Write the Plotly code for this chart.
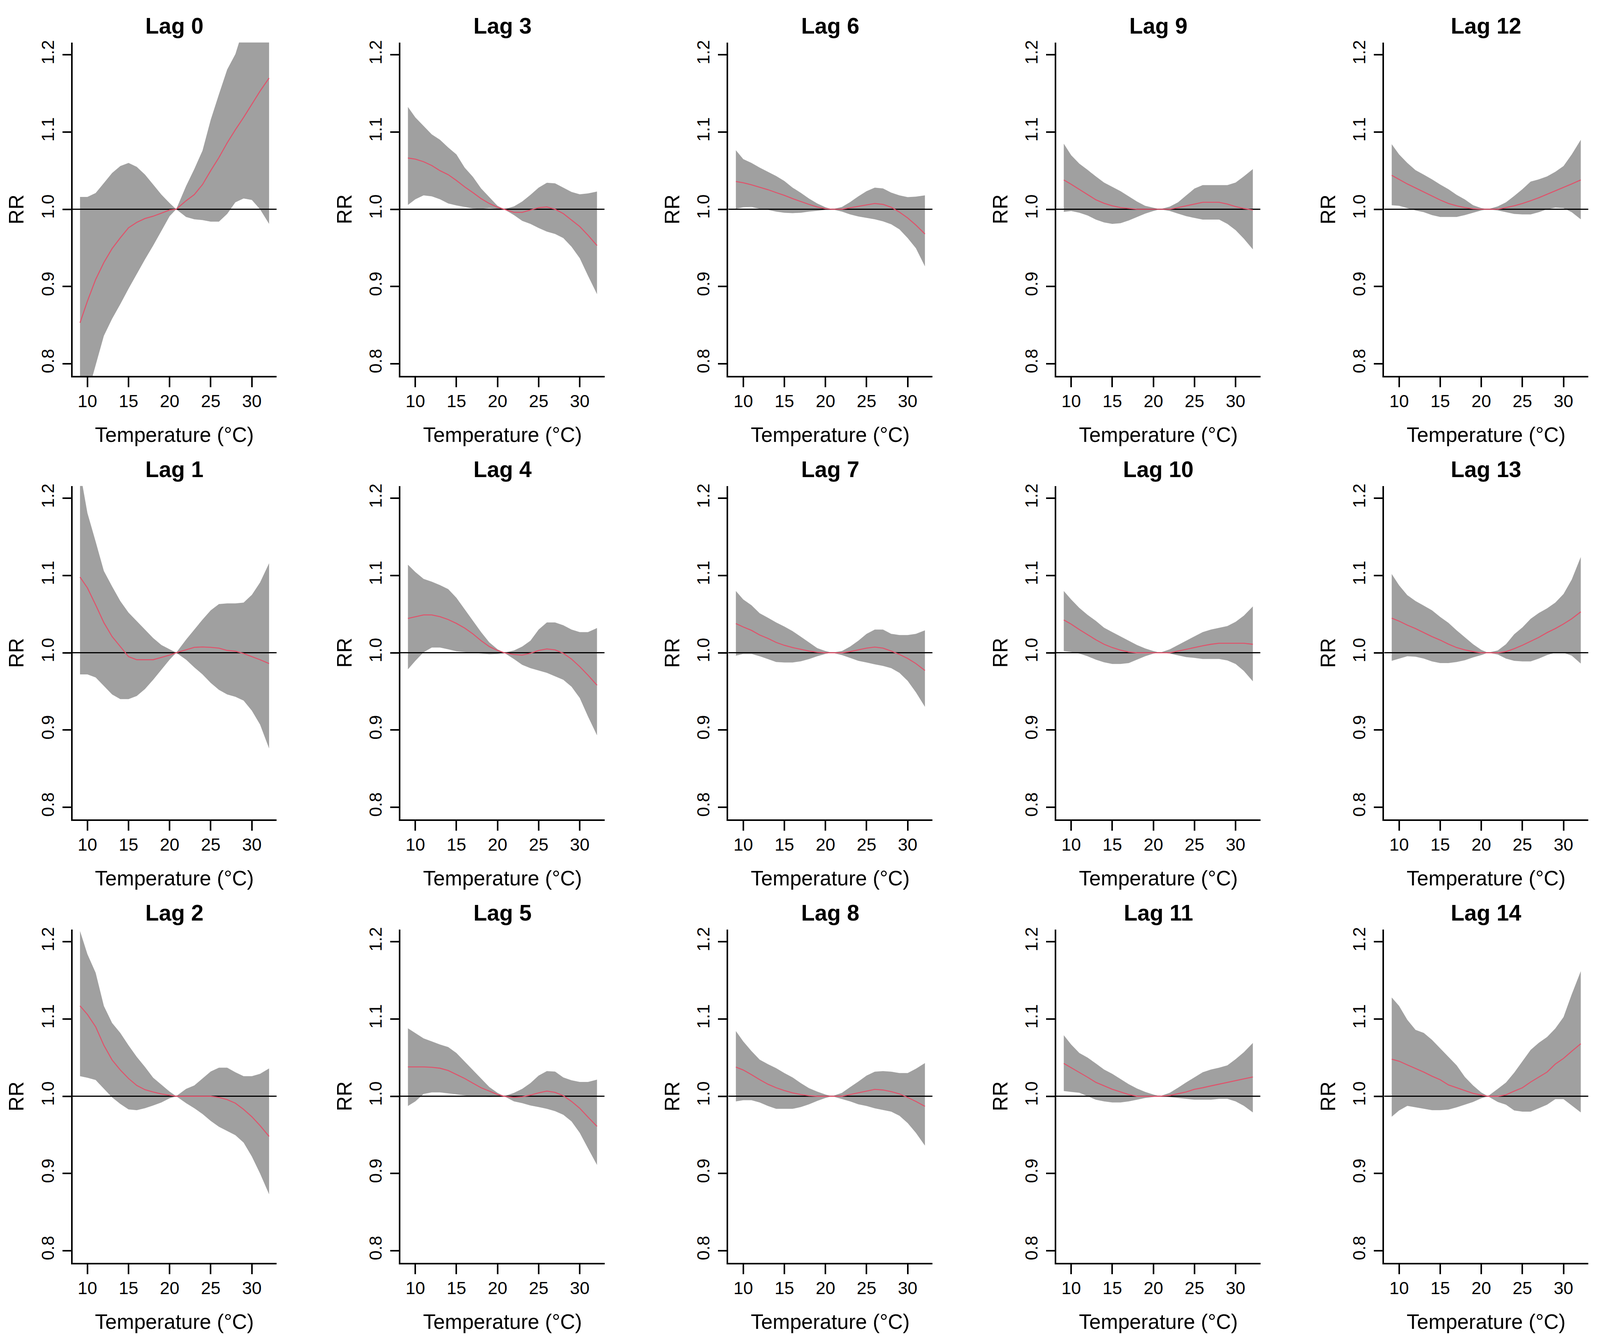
import plotly.graph_objects as go

# ---------------- data ----------------
temps = [9.1, 10, 11, 12, 13, 14, 15, 16, 17, 18, 19, 20, 20.8,
         22, 23, 24, 25, 26, 27, 28, 29, 30, 31, 32.1]

x_ticks = [10, 15, 20, 25, 30]
y_ticks = [0.8, 0.9, 1.0, 1.1, 1.2]
y_tick_labels = ["0.8", "0.9", "1.0", "1.1", "1.2"]
y_lim = [0.8, 1.2]
ref_rr = 1.0

rr_lag0 = [0.853, 0.881, 0.909, 0.931, 0.949, 0.963, 0.976, 0.983, 0.988, 0.991, 0.995, 0.999, 1.0,
           1.011, 1.019, 1.032, 1.050, 1.067, 1.086, 1.103, 1.119, 1.136, 1.153, 1.170]
hi_lag0 = [1.016, 1.016, 1.021, 1.034, 1.047, 1.056, 1.060, 1.055, 1.045, 1.032, 1.019, 1.008, 1.0,
           1.030, 1.052, 1.076, 1.116, 1.149, 1.181, 1.201, 1.235, 1.26, 1.29, 1.33]
lo_lag0 = [0.73, 0.76, 0.797, 0.836, 0.858, 0.877, 0.897, 0.916, 0.935, 0.953, 0.972, 0.991, 1.0,
           0.990, 0.987, 0.986, 0.984, 0.984, 0.994, 1.009, 1.014, 1.012, 1.0, 0.981]

rr_lag1 = [1.098, 1.084, 1.062, 1.039, 1.021, 1.008, 0.995, 0.991, 0.991, 0.991, 0.994, 0.997, 1.0,
           1.004, 1.007, 1.0075, 1.007, 1.006, 1.003, 1.002, 0.999, 0.995, 0.991, 0.986]
hi_lag1 = [1.235, 1.181, 1.144, 1.106, 1.086, 1.067, 1.052, 1.041, 1.030, 1.019, 1.010, 1.0045, 1.0,
           1.017, 1.030, 1.043, 1.055, 1.063, 1.064, 1.064, 1.065, 1.075, 1.091, 1.116]
lo_lag1 = [0.972, 0.972, 0.968, 0.957, 0.946, 0.940, 0.940, 0.944, 0.953, 0.965, 0.978, 0.991, 1.0,
           0.991, 0.981, 0.972, 0.961, 0.952, 0.946, 0.943, 0.938, 0.925, 0.907, 0.876]

rr_lag2 = [1.117, 1.106, 1.090, 1.066, 1.047, 1.034, 1.023, 1.014, 1.0085, 1.0055, 1.003, 1.0015, 1.0,
           1.0, 1.0, 1.0, 1.0, 0.9985, 0.9956, 0.991, 0.983, 0.9735, 0.962, 0.948]
hi_lag2 = [1.214, 1.184, 1.16, 1.117, 1.095, 1.082, 1.066, 1.051, 1.038, 1.024, 1.015, 1.006, 1.0,
           1.0096, 1.014, 1.023, 1.032, 1.037, 1.037, 1.031, 1.026, 1.026, 1.029, 1.036]
lo_lag2 = [1.026, 1.024, 1.021, 1.010, 0.9985, 0.990, 0.983, 0.982, 0.9845, 0.988, 0.992, 0.9974, 1.0,
           0.991, 0.9845, 0.977, 0.968, 0.9605, 0.955, 0.9495, 0.940, 0.922, 0.900, 0.873]

rr_lag3 = [1.0664, 1.065, 1.0616, 1.0567, 1.050, 1.0448, 1.0373, 1.029, 1.0216, 1.0138, 1.0075, 1.0026, 1.0,
           0.996, 0.996, 0.999, 1.002, 1.003, 1.0, 0.9944, 0.986, 0.9776, 0.9664, 0.953]
hi_lag3 = [1.1325, 1.119, 1.108, 1.097, 1.090, 1.080, 1.071, 1.054, 1.042, 1.027, 1.0157, 1.0045, 1.0,
           1.0037, 1.010, 1.0187, 1.028, 1.0343, 1.0336, 1.028, 1.0224, 1.0194, 1.0205, 1.023]
lo_lag3 = [1.0056, 1.013, 1.018, 1.0168, 1.013, 1.0075, 1.005, 1.003, 1.001, 1.0005, 1.0015, 1.0005, 1.0,
           0.9925, 0.985, 0.981, 0.9757, 0.971, 0.968, 0.9627, 0.9515, 0.9366, 0.914, 0.890]

rr_lag4 = [1.0445, 1.0467, 1.049, 1.049, 1.0467, 1.043, 1.038, 1.032, 1.0245, 1.0156, 1.008, 1.003, 1.0,
           0.9978, 0.997, 0.9993, 1.003, 1.005, 1.0037, 0.9993, 0.9918, 0.982, 0.971, 0.958]
hi_lag4 = [1.114, 1.1046, 1.0957, 1.092, 1.0876, 1.0824, 1.0712, 1.0564, 1.0416, 1.0267, 1.0134, 1.0045, 1.0,
           1.003, 1.008, 1.0156, 1.030, 1.0393, 1.0393, 1.0356, 1.030, 1.0267, 1.0267, 1.032]
lo_lag4 = [0.9785, 0.9896, 1.0007, 1.0067, 1.0067, 1.0045, 1.002, 1.0007, 1.0, 0.999, 0.998, 0.9985, 1.0,
           0.9918, 0.9844, 0.980, 0.977, 0.974, 0.9696, 0.965, 0.956, 0.9414, 0.9176, 0.893]

rr_lag5 = [1.038, 1.038, 1.038, 1.0375, 1.0363, 1.0333, 1.028, 1.023, 1.017, 1.011, 1.0067, 1.0022, 1.0,
           0.9985, 0.9993, 1.0015, 1.0044, 1.0067, 1.005, 1.0007, 0.9933, 0.9844, 0.973, 0.961]
hi_lag5 = [1.088, 1.082, 1.075, 1.071, 1.067, 1.0637, 1.056, 1.045, 1.034, 1.023, 1.012, 1.0044, 1.0,
           1.0044, 1.0096, 1.017, 1.0267, 1.0326, 1.0319, 1.0244, 1.0207, 1.0185, 1.0185, 1.0215]
lo_lag5 = [0.9874, 0.9933, 1.003, 1.005, 1.005, 1.0037, 1.0022, 1.001, 1.0, 0.9995, 0.999, 0.9995, 1.0,
           0.9933, 0.991, 0.988, 0.986, 0.9837, 0.9807, 0.976, 0.9674, 0.9526, 0.9326, 0.911]

rr_lag6 = [1.036, 1.0343, 1.0317, 1.0287, 1.0254, 1.0216, 1.018, 1.0138, 1.010, 1.0063, 1.003, 1.0007, 1.0,
           1.0, 1.0019, 1.0037, 1.0056, 1.0075, 1.0063, 1.0026, 0.9963, 0.9888, 0.9795, 0.968]
hi_lag6 = [1.0765, 1.065, 1.060, 1.054, 1.0485, 1.043, 1.0366, 1.028, 1.0213, 1.0138, 1.0075, 1.0026, 1.0,
           1.003, 1.0093, 1.0168, 1.0235, 1.028, 1.027, 1.0216, 1.018, 1.0157, 1.0164, 1.018]
lo_lag6 = [1.0007, 1.0026, 1.003, 1.0007, 0.9993, 0.997, 0.9955, 0.995, 0.9955, 0.997, 0.998, 0.9993, 1.0,
           0.997, 0.9933, 0.9907, 0.9888, 0.987, 0.9843, 0.9806, 0.974, 0.9627, 0.9496, 0.926]

rr_lag7 = [1.0378, 1.0334, 1.029, 1.023, 1.0186, 1.0134, 1.0096, 1.0067, 1.0045, 1.0022, 1.0007, 1.0, 1.0,
           1.0, 1.0015, 1.0037, 1.006, 1.0074, 1.006, 1.0022, 0.9978, 0.9926, 0.986, 0.977]
hi_lag7 = [1.080, 1.069, 1.0616, 1.0512, 1.0453, 1.0393, 1.034, 1.028, 1.0208, 1.0134, 1.006, 1.0022, 1.0,
           1.0022, 1.008, 1.0156, 1.0245, 1.030, 1.030, 1.0245, 1.023, 1.023, 1.0245, 1.029]
lo_lag7 = [0.9963, 0.9985, 0.9985, 0.9955, 0.9918, 0.988, 0.9874, 0.9874, 0.9889, 0.9918, 0.9955, 0.9985, 1.0,
           0.997, 0.9933, 0.9896, 0.9874, 0.985, 0.983, 0.980, 0.974, 0.9636, 0.9488, 0.930]

rr_lag8 = [1.0378, 1.034, 1.028, 1.0215, 1.0156, 1.011, 1.0074, 1.0044, 1.0022, 1.0007, 1.0, 1.0, 1.0,
           1.0, 1.0022, 1.0044, 1.0067, 1.0089, 1.0081, 1.006, 1.003, 0.9985, 0.9933, 0.987]
hi_lag8 = [1.0844, 1.071, 1.0585, 1.0474, 1.0415, 1.0363, 1.030, 1.0244, 1.017, 1.0104, 1.006, 1.0022, 1.0,
           1.0044, 1.0118, 1.019, 1.0267, 1.0318, 1.0326, 1.0318, 1.030, 1.030, 1.0356, 1.043]
lo_lag8 = [0.9933, 0.9948, 0.9948, 0.9919, 0.9874, 0.9837, 0.9837, 0.9837, 0.986, 0.9896, 0.994, 0.9978, 1.0,
           0.9963, 0.9933, 0.9896, 0.9874, 0.9844, 0.9822, 0.980, 0.9748, 0.9652, 0.9526, 0.936]

rr_lag9 = [1.038, 1.0324, 1.0257, 1.019, 1.0123, 1.0078, 1.0045, 1.0022, 1.001, 1.0, 1.0, 1.0, 1.0,
           1.0, 1.0022, 1.0045, 1.0067, 1.009, 1.009, 1.009, 1.0067, 1.0034, 1.001, 0.999]
hi_lag9 = [1.085, 1.070, 1.059, 1.051, 1.0425, 1.0346, 1.029, 1.0235, 1.0168, 1.010, 1.0045, 1.002, 1.0,
           1.0034, 1.009, 1.018, 1.0268, 1.0313, 1.0313, 1.0313, 1.0313, 1.0346, 1.0425, 1.052]
lo_lag9 = [0.9966, 0.9978, 0.9955, 0.992, 0.9866, 0.983, 0.981, 0.982, 0.9855, 0.990, 0.9944, 0.9978, 1.0,
           0.9978, 0.9944, 0.991, 0.9888, 0.9866, 0.9866, 0.9866, 0.981, 0.973, 0.962, 0.948]

rr_lag10 = [1.0425, 1.037, 1.030, 1.0235, 1.0168, 1.011, 1.0067, 1.0034, 1.001, 1.0, 1.0, 1.0, 1.0,
            1.0, 1.0022, 1.0045, 1.0067, 1.009, 1.011, 1.0123, 1.0123, 1.0123, 1.0123, 1.011]
hi_lag10 = [1.080, 1.069, 1.058, 1.049, 1.0413, 1.0324, 1.0268, 1.021, 1.0156, 1.010, 1.0056, 1.0022, 1.0,
            1.0045, 1.010, 1.0156, 1.021, 1.0268, 1.030, 1.0324, 1.0346, 1.040, 1.048, 1.060]
lo_lag10 = [1.0022, 1.001, 0.9989, 0.9955, 0.991, 0.9877, 0.9855, 0.9855, 0.9866, 0.991, 0.9955, 0.9989, 1.0,
            0.9989, 0.9966, 0.9944, 0.9933, 0.992, 0.992, 0.992, 0.990, 0.9855, 0.9765, 0.963]

rr_lag11 = [1.0425, 1.037, 1.031, 1.0246, 1.018, 1.0134, 1.009, 1.0056, 1.0022, 1.0, 1.0, 1.0, 1.0,
            1.001, 1.0034, 1.0056, 1.009, 1.011, 1.0134, 1.0156, 1.018, 1.020, 1.0223, 1.025]
hi_lag11 = [1.079, 1.067, 1.056, 1.050, 1.0425, 1.0346, 1.029, 1.0223, 1.0156, 1.010, 1.0056, 1.0022, 1.0,
            1.0045, 1.011, 1.018, 1.0246, 1.031, 1.0346, 1.037, 1.040, 1.048, 1.057, 1.069]
lo_lag11 = [1.0067, 1.0056, 1.0045, 1.0, 0.9955, 0.9933, 0.992, 0.992, 0.9933, 0.9955, 0.9978, 0.9989, 1.0,
            0.9989, 0.9978, 0.9966, 0.9955, 0.9955, 0.9955, 0.9966, 0.9966, 0.9933, 0.9877, 0.979]

rr_lag12 = [1.044, 1.0388, 1.0328, 1.0276, 1.0224, 1.0172, 1.012, 1.0075, 1.0045, 1.0022, 1.0007, 1.0, 1.0,
            1.0, 1.0022, 1.0045, 1.0075, 1.011, 1.015, 1.0194, 1.0239, 1.0284, 1.0328, 1.038]
hi_lag12 = [1.0843, 1.071, 1.060, 1.0507, 1.0448, 1.0388, 1.032, 1.026, 1.0187, 1.0127, 1.0052, 1.0015, 1.0,
            1.0037, 1.009, 1.0172, 1.026, 1.0358, 1.0388, 1.0425, 1.0485, 1.056, 1.071, 1.090]
lo_lag12 = [1.0052, 1.0045, 1.0015, 0.9985, 0.9963, 0.9925, 0.990, 0.990, 0.990, 0.9925, 0.9955, 0.9985, 1.0,
            0.9985, 0.9963, 0.994, 0.9933, 0.9933, 0.9963, 1.0, 1.0022, 1.0015, 0.9963, 0.987]

rr_lag13 = [1.0448, 1.041, 1.0358, 1.0313, 1.0261, 1.0209, 1.0164, 1.0112, 1.0067, 1.0037, 1.0015, 1.0, 1.0,
            1.0, 1.0015, 1.0052, 1.0097, 1.0149, 1.020, 1.0261, 1.0313, 1.0373, 1.044, 1.053]
hi_lag13 = [1.102, 1.0873, 1.0746, 1.067, 1.061, 1.055, 1.0463, 1.0388, 1.029, 1.020, 1.011, 1.0037, 1.0,
            1.003, 1.011, 1.0239, 1.0328, 1.044, 1.0515, 1.0575, 1.065, 1.0761, 1.0948, 1.124]
lo_lag13 = [0.9896, 0.9925, 0.9955, 0.9948, 0.9925, 0.9888, 0.9866, 0.9866, 0.988, 0.9903, 0.994, 0.997, 1.0,
            0.9978, 0.9925, 0.9896, 0.9888, 0.9888, 0.9925, 0.997, 1.0, 1.0, 0.9963, 0.986]

rr_lag14 = [1.048, 1.0454, 1.0406, 1.036, 1.0313, 1.026, 1.0214, 1.0147, 1.011, 1.0074, 1.0037, 1.0015, 1.0,
            1.0, 1.0018, 1.0066, 1.011, 1.0184, 1.025, 1.0313, 1.0417, 1.049, 1.0583, 1.068]
hi_lag14 = [1.128, 1.117, 1.099, 1.086, 1.082, 1.073, 1.062, 1.051, 1.040, 1.025, 1.014, 1.0048, 1.0,
            1.0096, 1.0177, 1.0306, 1.0454, 1.060, 1.0693, 1.0767, 1.0878, 1.1025, 1.132, 1.162]
lo_lag14 = [0.9735, 0.9816, 0.9875, 0.9856, 0.9838, 0.982, 0.982, 0.9827, 0.9856, 0.989, 0.9926, 0.9974, 1.0,
            0.9926, 0.989, 0.9816, 0.980, 0.980, 0.9845, 0.989, 0.9963, 0.9963, 0.988, 0.979]

lags = list(range(15))
rr_all = [rr_lag0, rr_lag1, rr_lag2, rr_lag3, rr_lag4, rr_lag5, rr_lag6, rr_lag7,
          rr_lag8, rr_lag9, rr_lag10, rr_lag11, rr_lag12, rr_lag13, rr_lag14]
hi_all = [hi_lag0, hi_lag1, hi_lag2, hi_lag3, hi_lag4, hi_lag5, hi_lag6, hi_lag7,
          hi_lag8, hi_lag9, hi_lag10, hi_lag11, hi_lag12, hi_lag13, hi_lag14]
lo_all = [lo_lag0, lo_lag1, lo_lag2, lo_lag3, lo_lag4, lo_lag5, lo_lag6, lo_lag7,
          lo_lag8, lo_lag9, lo_lag10, lo_lag11, lo_lag12, lo_lag13, lo_lag14]

# ---------------- styling / layout ----------------
# The viewing window is 4096 px wide, so the page is laid out at that width
# with every position taken as a fraction of the 5211 x 3432 reference.
W_REF, H = 5211, 3432
W = 4096
SX = W / W_REF
FONT = "Liberation Sans, Arial, Helvetica, sans-serif"
BAND = "#A0A0A0"
RED = "#DF536B"
LEFT0, PITCH_X, PW = 236, 1068, 665      # reference pixels
TOP0, PITCH_Y, PH = 103, 1137, 855
TICK_FS, LAB_FS, MAIN_FS = 45, 53, 57

span = max(temps) - min(temps)
x_range = [min(temps) - 0.04 * span, max(temps) + 0.04 * span]
yspan = y_lim[1] - y_lim[0]
y_range = [y_lim[0] - 0.04 * yspan, y_lim[1] + 0.04 * yspan]


def px_x(p):
    return p / W_REF


def px_y(p):
    return 1 - p / H


fig = go.Figure()
annotations = []

for lag in lags:
    col, row = lag // 3, lag % 3
    left = LEFT0 + PITCH_X * col
    top = TOP0 + PITCH_Y * row
    k = lag + 1
    xa = "x" if k == 1 else f"x{k}"
    ya = "y" if k == 1 else f"y{k}"

    rr, hi, lo = rr_all[lag], hi_all[lag], lo_all[lag]

    fig.add_trace(go.Scatter(
        x=temps + temps[::-1], y=hi + lo[::-1], fill="toself",
        fillcolor=BAND, line=dict(width=0, color=BAND), mode="lines",
        hoverinfo="skip", showlegend=False, xaxis=xa, yaxis=ya))
    fig.add_trace(go.Scatter(
        x=x_range, y=[ref_rr, ref_rr], mode="lines",
        line=dict(color="black", width=3), hoverinfo="skip",
        showlegend=False, xaxis=xa, yaxis=ya))
    fig.add_trace(go.Scatter(
        x=temps, y=rr, mode="lines", line=dict(color=RED, width=2.6),
        showlegend=False, xaxis=xa, yaxis=ya))

    axis_common = dict(showgrid=False, zeroline=False, showline=True,
                       linecolor="black", linewidth=4, ticks="outside",
                       tickwidth=4, tickcolor="black",
                       tickfont=dict(family=FONT, size=TICK_FS, color="black"))
    fig.update_layout(**{
        ("xaxis" if k == 1 else f"xaxis{k}"): dict(
            domain=[px_x(left), px_x(left + PW)], anchor=ya,
            range=x_range, tickvals=x_ticks, ticklen=25,
            ticklabelstandoff=-3, **axis_common),
        ("yaxis" if k == 1 else f"yaxis{k}"): dict(
            domain=[px_y(top + PH), px_y(top)], anchor=xa,
            range=y_range, tickvals=y_ticks, ticktext=y_tick_labels,
            ticklen=round(28 * SX), tickangle=-90, ticklabelstandoff=4,
            **axis_common),
    })

    cx = px_x(left + PW / 2)
    annotations.append(dict(text=f"<b>Lag {lag}</b>", x=cx, y=px_y(top - 43),
                            xref="paper", yref="paper", showarrow=False,
                            xanchor="center", yanchor="middle",
                            font=dict(family=FONT, size=MAIN_FS, color="black")))
    annotations.append(dict(text="Temperature (°C)", x=cx, y=px_y(top + PH + 150),
                            xref="paper", yref="paper", showarrow=False,
                            xanchor="center", yanchor="middle",
                            font=dict(family=FONT, size=LAB_FS, color="black")))
    annotations.append(dict(text="RR", x=px_x(left - 183), y=px_y(top + PH / 2),
                            xref="paper", yref="paper", showarrow=False,
                            textangle=-90, xanchor="center", yanchor="middle",
                            font=dict(family=FONT, size=LAB_FS, color="black")))

fig.update_layout(width=W, height=H, margin=dict(l=0, r=0, t=0, b=0),
                  paper_bgcolor="white", plot_bgcolor="white",
                  showlegend=False, annotations=annotations, hovermode=False)

post = """
document.body.style.margin = '0';
document.body.style.padding = '0';
document.body.style.overflow = 'hidden';
"""
fig.write_html("out.html", post_script=post,
               config={"displayModeBar": False, "staticPlot": True})
